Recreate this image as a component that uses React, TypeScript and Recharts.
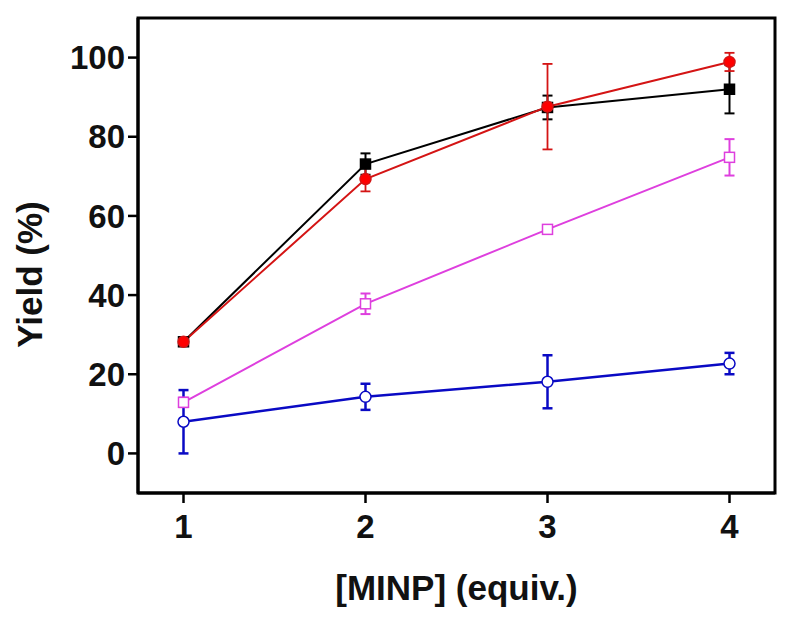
import React from 'react';
import { LineChart, Line, XAxis, YAxis, ErrorBar, ReferenceArea } from 'recharts';

const equiv = [1, 2, 3, 4];
const blackYield = [28.2, 73.1, 87.4, 92.0];
const blackErr = [1.0, 2.7, 3.0, 6.1];
const redYield = [28.2, 69.3, 87.6, 98.9];
const redErr = [1.0, 3.1, 10.8, 2.3];
const magentaYield = [12.9, 37.8, 56.6, 74.8];
const magentaErr = [1.2, 2.6, 0.8, 4.6];
const blueYield = [8.0, 14.3, 18.1, 22.7];
const blueErr = [8.0, 3.3, 6.7, 2.7];
const xTicks = [1, 2, 3, 4];
const yTicks = [0, 20, 40, 60, 80, 100];

const data = equiv.map((x, i) => ({
  x,
  black: blackYield[i],
  blackErr: blackErr[i],
  red: redYield[i],
  redErr: redErr[i],
  magenta: magentaYield[i],
  magentaErr: magentaErr[i],
  blue: blueYield[i],
  blueErr: blueErr[i],
}));

const FONT = '"Liberation Sans", Arial, sans-serif';
const BLACK = '#000000';
const RED = '#d41414';
const MAGENTA = '#de3fde';
const BLUE = '#0a0ac4';

const squareDot = (fill: string, stroke: string) => (p: any) => {
  if (p.cx == null || p.cy == null) return <g key={p.index} />;
  return (
    <rect key={`s${p.index}`} x={p.cx - 5} y={p.cy - 5} width={10} height={10} fill={fill} stroke={stroke} strokeWidth={1.5} />
  );
};
const circleDot = (fill: string, stroke: string, r: number) => (p: any) => {
  if (p.cx == null || p.cy == null) return <g key={p.index} />;
  return <circle key={`c${p.index}`} cx={p.cx} cy={p.cy} r={r} fill={fill} stroke={stroke} strokeWidth={1.5} />;
};

const YTitle = (props: any) => {
  const vb = props.viewBox || { x: 0, y: 18, width: 138, height: 475 };
  const cx = vb.x + 29;
  const cy = vb.y + vb.height / 2 + 19;
  return (
    <text x={cx} y={cy} transform={`rotate(-90, ${cx}, ${cy})`} textAnchor="middle" dominantBaseline="central"
      fontFamily={FONT} fontWeight="bold" fontSize={35} fill="#111">
      Yield (%)
    </text>
  );
};

const XTitle = (props: any) => {
  const vb = props.viewBox || { x: 138, y: 493, width: 637, height: 131 };
  return (
    <text x={vb.x + vb.width / 2} y={vb.y + 107} textAnchor="middle" fontFamily={FONT} fontWeight="bold" fontSize={35} fill="#111">
      [MINP] (equiv.)
    </text>
  );
};

export default function App() {
  const tickStyle = { fontFamily: FONT, fontWeight: 'bold' as const, fontSize: 33, fill: '#111' };
  return (
    <div style={{ position: 'absolute', left: 0, top: 0, width: 800, height: 624, background: '#fff' }}>
      <LineChart width={800} height={624} data={data} margin={{ top: 18, right: 25, left: 0, bottom: 0 }}>
        <XAxis
          dataKey="x"
          type="number"
          domain={[0.75, 4.25]}
          ticks={xTicks}
          allowDataOverflow
          height={131}
          tickSize={10}
          tickMargin={12}
          tick={tickStyle}
          tickLine={{ stroke: '#000', strokeWidth: 2.5 }}
          axisLine={{ stroke: '#000', strokeWidth: 3 }}
          label={{ content: XTitle }}
        />
        <YAxis
          type="number"
          domain={[-10, 110]}
          ticks={yTicks}
          allowDataOverflow
          width={138}
          tickSize={10}
          tickMargin={3}
          tick={tickStyle}
          tickLine={{ stroke: '#000', strokeWidth: 2.5 }}
          axisLine={{ stroke: '#000', strokeWidth: 3 }}
          label={{ content: YTitle }}
        />
        <ReferenceArea x1={0.75} x2={4.25} y1={-10} y2={110} fill="none" stroke="#000" strokeWidth={3} fillOpacity={0} />
        <Line dataKey="blue" stroke={BLUE} strokeWidth={2.5} isAnimationActive={false}
          dot={circleDot('#ffffff', BLUE, 5.5)} activeDot={false}>
          <ErrorBar dataKey="blueErr" direction="y" width={5} stroke={BLUE} strokeWidth={2.5} />
        </Line>
        <Line dataKey="magenta" stroke={MAGENTA} strokeWidth={2} isAnimationActive={false}
          dot={squareDot('#ffffff', MAGENTA)} activeDot={false}>
          <ErrorBar dataKey="magentaErr" direction="y" width={5} stroke={MAGENTA} strokeWidth={2} />
        </Line>
        <Line dataKey="black" stroke={BLACK} strokeWidth={2} isAnimationActive={false}
          dot={squareDot(BLACK, BLACK)} activeDot={false}>
          <ErrorBar dataKey="blackErr" direction="y" width={5} stroke={BLACK} strokeWidth={2} />
        </Line>
        <Line dataKey="red" stroke={RED} strokeWidth={2} isAnimationActive={false}
          dot={circleDot('#ff0000', RED, 5.5)} activeDot={false}>
          <ErrorBar dataKey="redErr" direction="y" width={5} stroke={RED} strokeWidth={1.8} />
        </Line>
      </LineChart>
    </div>
  );
}
